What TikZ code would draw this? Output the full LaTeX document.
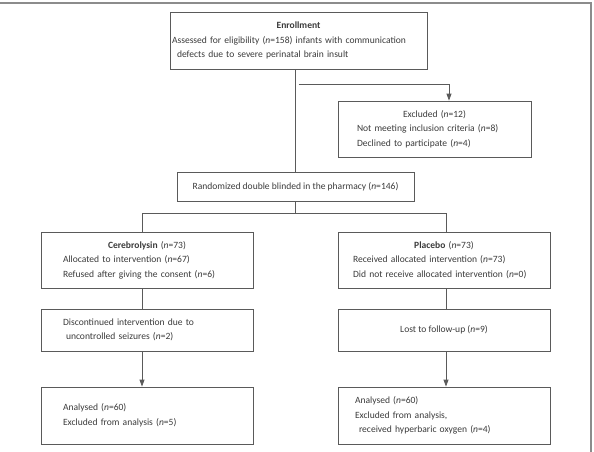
\documentclass[tikz,border=0pt]{standalone}
\usepackage{fontspec}
\setmainfont{Carlito}
\usepackage{tikz}
\usetikzlibrary{arrows.meta}
\definecolor{boxgray}{HTML}{5A5A5A}
\definecolor{textgray}{HTML}{3A3A3A}
\definecolor{framegray}{HTML}{8C8C8C}
\newcommand{\nval}[1]{(\textit{n}=#1)}
\newcommand{\flowFont}[0]{\fontsize{9.55}{14.5}\selectfont}

\begin{document}
\begin{tikzpicture}[x=1pt, y=-1pt]
  \tikzset{every node/.style={font=\flowFont, text=textgray},
           flowbox/.style={draw=boxgray, line width=0.8pt, align=left, inner ysep=1pt},
           link/.style={draw=boxgray, line width=0.8pt},
           arrow/.style={link, -{Triangle[length=7pt,width=5pt]}}}
  \useasboundingbox (0,0) rectangle (594,452);
  \draw[framegray, line width=1.2pt] (0,3) -- (591,3) -- (591,452);

  % enrollment and exclusion
  \node[flowbox, text width=253pt, inner xsep=2pt, minimum height=57pt] (enroll) at (298.5,40.5)
    {{\centering\textbf{Enrollment}\par}
     Assessed for eligibility \nval{158} infants with communication\\
     \hspace*{5pt}defects due to severe perinatal brain insult};
  \node[flowbox, text width=155pt, inner xsep=19pt, minimum height=56pt] (excl) at (434.5,129)
    {{\centering Excluded \nval{12}\par}
     Not meeting inclusion criteria \nval{8}\\
     Declined to participate \nval{4}};
  \node[flowbox, align=center, minimum width=237pt, minimum height=29pt] (rand) at (295.5,186.5)
    {Randomized double blinded in the pharmacy \nval{146}};

  % two arms
  \node[flowbox, text width=168pt, inner xsep=22pt, minimum height=56pt] (cereb) at (147,260)
    {{\centering\textbf{Cerebrolysin} \nval{73}\par}
     Allocated to intervention \nval{67}\\
     Refused after giving the consent \nval{6}};
  \node[flowbox, text width=182pt, inner xsep=15pt, minimum height=56pt] (plac) at (444,260)
    {{\centering\textbf{Placebo} \nval{73}\par}
     Received allocated intervention \nval{73}\\
     Did not receive allocated intervention \nval{0}};
  \node[flowbox, text width=168pt, inner xsep=22pt, minimum height=42pt] (disc) at (147,330)
    {Discontinued intervention due to\\
     \hspace*{3pt}uncontrolled seizures \nval{2}};
  \node[flowbox, align=center, minimum width=212pt, minimum height=42pt] (lost) at (444,330)
    {Lost to follow-up \nval{9}};
  \node[flowbox, text width=168pt, inner xsep=22pt, minimum height=57pt] (anCereb) at (147,415.5)
    {Analysed \nval{60}\\
     Excluded from analysis \nval{5}};
  \node[flowbox, text width=178pt, inner xsep=17pt, minimum height=57pt] (anPlac) at (444,415.5)
    {Analysed \nval{60}\\
     Excluded from analysis,\\
     \hspace*{4pt}received hyperbaric oxygen \nval{4}};

  % connectors
  \coordinate (excBranch) at (449,84);
  \coordinate (splitL) at (142,213);
  \coordinate (splitR) at (446,213);
  \draw[link] (enroll.south -| rand.north) -- (rand.north);
  \draw[link] (enroll.south |- excBranch) -- (excBranch);
  \draw[arrow] (excBranch) -- (excBranch |- excl.north);
  \draw[link] (rand.south) -- (rand.south |- splitL);
  \draw[link] (splitL) -- (splitR);
  \draw[link] (splitL) -- (splitL |- cereb.north);
  \draw[link] (splitR) -- (splitR |- plac.north);
  \draw[link] (splitL |- cereb.south) -- (splitL |- disc.north);
  \draw[link] (splitR |- plac.south) -- (splitR |- lost.north);
  \draw[arrow] (splitL |- disc.south) -- (splitL |- anCereb.north);
  \draw[arrow] (splitR |- lost.south) -- (splitR |- anPlac.north);
\end{tikzpicture}
\end{document}
